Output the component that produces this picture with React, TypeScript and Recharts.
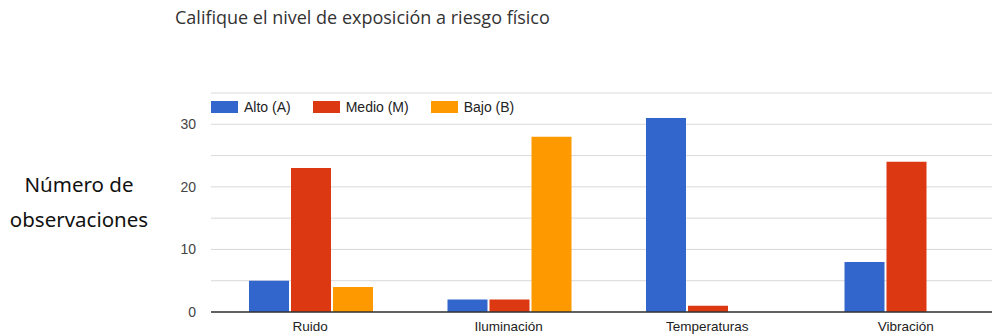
import React from 'react';
import { BarChart, Bar, XAxis, YAxis, CartesianGrid, Legend } from 'recharts';

const CATEGORIES = ['Ruido', 'Iluminación', 'Temperaturas', 'Vibración'];
const ALTO = [5, 2, 31, 8];
const MEDIO = [23, 2, 1, 24];
const BAJO = [4, 28, 0, 0];
const Y_TICKS = [0, 5, 10, 15, 20, 25, 30, 35];

const SERIES = [
  { key: 'alto', name: 'Alto (A)', color: '#3366cc' },
  { key: 'medio', name: 'Medio (M)', color: '#dc3912' },
  { key: 'bajo', name: 'Bajo (B)', color: '#ff9900' },
];

const data = CATEGORIES.map((name, i) => ({
  name,
  alto: ALTO[i],
  medio: MEDIO[i],
  bajo: BAJO[i],
}));

const AXIS_FONT = '"Liberation Sans", Arial, sans-serif';

// only every other gridline gets a label
const YTick = (props: any) => {
  const { x, y, payload } = props;
  if (payload.value % 10 !== 0) return null;
  return (
    <text x={x} y={y} dy={5} textAnchor="end" fill="#444" fontSize={14} fontFamily={AXIS_FONT}>
      {payload.value}
    </text>
  );
};

// keep series order instead of the default alphabetical sort
const LegendContent = () => (
  <div style={{ display: 'flex', alignItems: 'center', fontFamily: AXIS_FONT, fontSize: 14, color: '#222' }}>
    {SERIES.map((s) => (
      <div key={s.key} style={{ display: 'flex', alignItems: 'center', marginRight: 22 }}>
        <span style={{ display: 'inline-block', width: 27, height: 12, background: s.color, marginRight: 6 }} />
        <span>{s.name}</span>
      </div>
    ))}
  </div>
);

export default function App() {
  return (
    <div style={{ position: 'absolute', top: 0, left: 0, width: 992, height: 334, background: '#fff', overflow: 'hidden' }}>
      <div
        style={{
          position: 'absolute',
          top: 8,
          left: 175,
          fontFamily: '"Open Sans", sans-serif',
          fontSize: 18,
          lineHeight: '18px',
          color: '#333',
          whiteSpace: 'nowrap',
        }}
      >
        Califique el nivel de exposición a riesgo físico
      </div>
      <div
        style={{
          position: 'absolute',
          top: 167,
          left: 0,
          width: 158,
          textAlign: 'center',
          fontFamily: '"Noto Sans", sans-serif',
          fontSize: 20.5,
          lineHeight: '35px',
          color: '#111',
        }}
      >
        Número de
        <br />
        observaciones
      </div>
      <div style={{ position: 'absolute', top: 0, left: 0 }}>
        <BarChart
          width={1005}
          height={334}
          data={data}
          margin={{ top: 93, right: 0, bottom: 0, left: 0 }}
          barCategoryGap={38}
          barGap={2}
        >
          <CartesianGrid vertical={false} stroke="#d9d9d9" />
          <XAxis
            dataKey="name"
            height={22}
            tickSize={0}
            tickMargin={9}
            axisLine={{ stroke: '#333', strokeWidth: 1.5 }}
            tick={{ fill: '#222', fontSize: 13.5, fontFamily: AXIS_FONT }}
          />
          <YAxis
            width={211}
            domain={[0, 35]}
            ticks={Y_TICKS}
            interval={0}
            axisLine={false}
            tickLine={false}
            tickSize={0}
            tickMargin={15}
            tick={<YTick />}
          />
          <Legend
            layout="horizontal"
            verticalAlign="middle"
            align="center"
            content={<LegendContent />}
            wrapperStyle={{ position: 'absolute', top: 99, left: 211, width: 'auto' }}
          />
          {SERIES.map((s) => (
            <Bar key={s.key} dataKey={s.key} name={s.name} fill={s.color} isAnimationActive={false} />
          ))}
        </BarChart>
      </div>
    </div>
  );
}
